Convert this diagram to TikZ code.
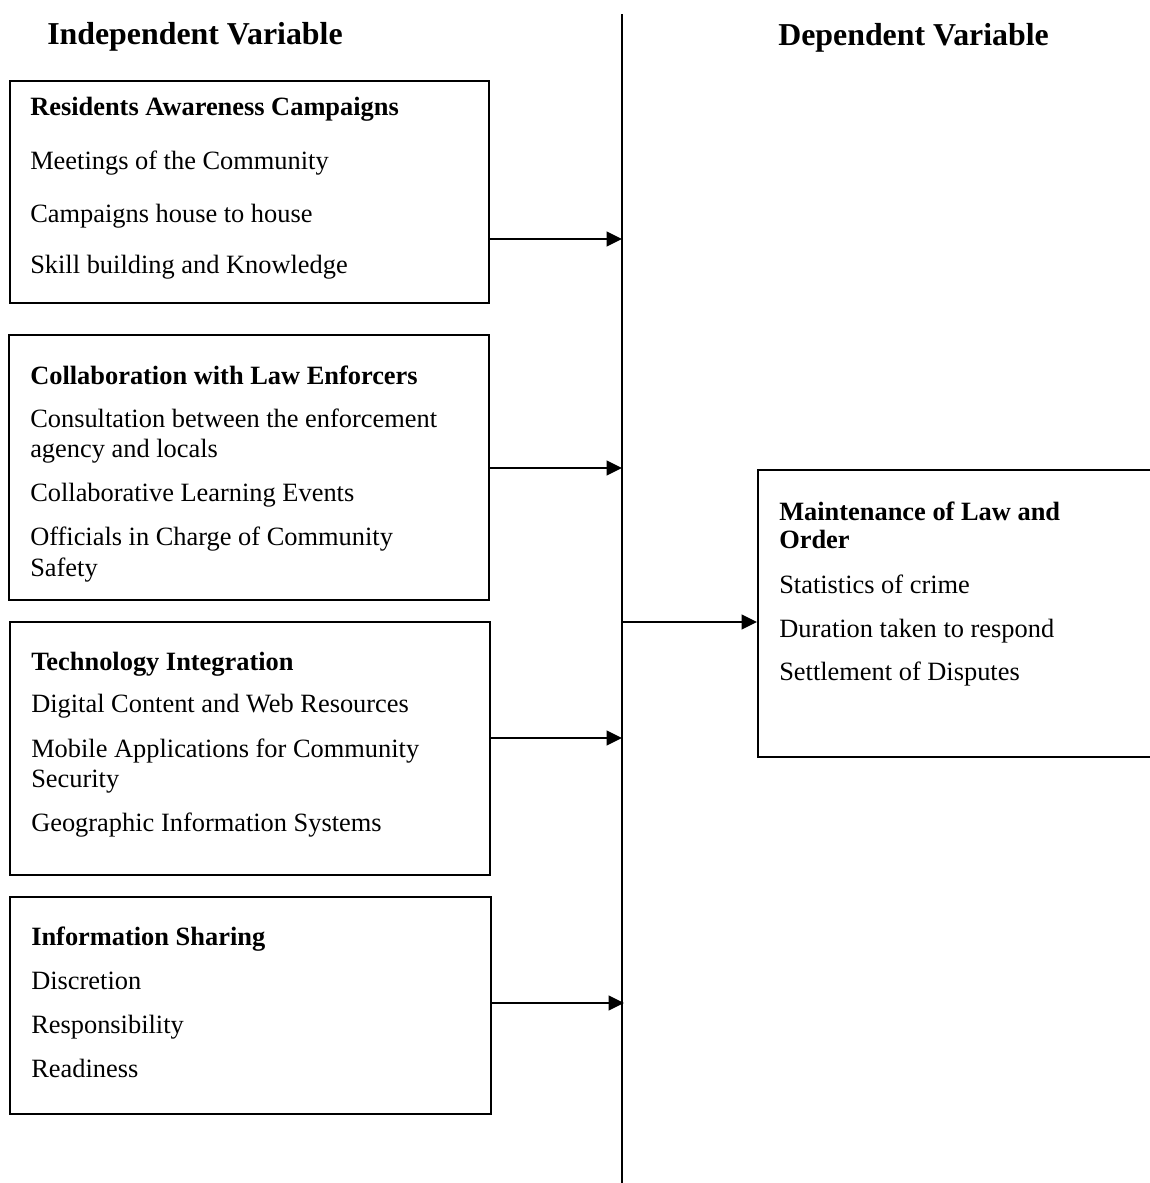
\documentclass[tikz,border=0pt]{standalone}
\usepackage{fontspec}
\setmainfont{Liberation Serif}
\usetikzlibrary{arrows.meta,calc}
\tikzset{
  boxframe/.style={draw=black, line width=1.5pt, rectangle, inner sep=0pt},
  itemtext/.style={anchor=base west, inner sep=0pt, font=\fontsize{19.8pt}{23pt}\selectfont},
  titletext/.style={anchor=base west, inner sep=0pt, font=\fontsize{19.8pt}{23pt}\selectfont\bfseries},
  headtext/.style={anchor=base west, inner sep=0pt, font=\fontsize{23.9pt}{28pt}\selectfont\bfseries},
  arr/.style={draw=black, line width=1.6pt, -{Triangle[length=11.5pt,width=11pt]}},
  spine/.style={draw=black, line width=1.2pt}
}
\begin{document}
\begin{tikzpicture}[x=0.75pt, y=-0.75pt]
\useasboundingbox (0,0) rectangle (1150,1183);

% headers
\node[headtext] (hind) at (47,44) {Independent Variable};
\node[headtext] (hdep) at (778,45) {Dependent Variable};

% spine
\coordinate (spt) at (622,14);
\coordinate (spb) at (622,1183);
\draw[spine] (spt) -- (spb);

% boxes
\node[boxframe, minimum width={479.5*0.75pt}, minimum height={222.5*0.75pt}] (b1) at (249.25,191.75) {};
\node[boxframe, minimum width={480*0.75pt}, minimum height={265*0.75pt}] (b2) at (249,467.5) {};
\node[boxframe, minimum width={480*0.75pt}, minimum height={253*0.75pt}] (b3) at (250,748.5) {};
\node[boxframe, minimum width={481*0.75pt}, minimum height={217*0.75pt}] (b4) at (250.5,1005.5) {};
\node[boxframe, minimum width={402*0.75pt}, minimum height={287*0.75pt}] (dv) at (959,613.5) {};

% box 1 text
\node[titletext] (t1) at (30,115) {Residents Awareness Campaigns};
\node[itemtext] (t1a) at (30,169) {Meetings of the Community};
\node[itemtext] (t1b) at (30,222) {Campaigns house to house};
\node[itemtext] (t1c) at (30,273) {Skill building and Knowledge};

% box 2 text
\node[titletext] (t2) at (30,384) {Collaboration with Law Enforcers};
\node[itemtext] (t2a) at (30,427) {Consultation between the enforcement};
\node[itemtext] (t2a2) at (30,457) {agency and locals};
\node[itemtext] (t2b) at (30,501) {Collaborative Learning Events};
\node[itemtext] (t2c) at (30,545) {Officials in Charge of Community};
\node[itemtext] (t2c2) at (30,576) {Safety};

% box 3 text
\node[titletext] (t3) at (31,670) {Technology Integration};
\node[itemtext] (t3a) at (31,712) {Digital Content and Web Resources};
\node[itemtext] (t3b) at (31,757) {Mobile Applications for Community};
\node[itemtext] (t3b2) at (31,787) {Security};
\node[itemtext] (t3c) at (31,831) {Geographic Information Systems};

% box 4 text
\node[titletext] (t4) at (31,945) {Information Sharing};
\node[itemtext] (t4a) at (31,989) {Discretion};
\node[itemtext] (t4b) at (31,1033) {Responsibility};
\node[itemtext] (t4c) at (31,1077) {Readiness};

% dependent box text
\node[titletext] (t5) at (779,520) {Maintenance of Law and};
\node[titletext] (t5b) at (779,548) {Order};
\node[itemtext] (t5c) at (779,593) {Statistics of crime};
\node[itemtext] (t5d) at (779,637) {Duration taken to respond};
\node[itemtext] (t5e) at (779,680) {Settlement of Disputes};

% arrows
\coordinate (s1) at (622,239);
\coordinate (s2) at (622,468);
\coordinate (s3) at (622,738);
\coordinate (s4) at (624,1003);
\coordinate (sm) at (622,622);
\draw[arr] ($(b1.east |- s1)+(-2,0)$) -- (s1);
\draw[arr] ($(b2.east |- s2)+(-2,0)$) -- (s2);
\draw[arr] ($(b3.east |- s3)+(-2,0)$) -- (s3);
\draw[arr] (b4.east |- s4) -- (s4);
\draw[arr] (sm) -- (dv.west |- sm);
\end{tikzpicture}
\end{document}
